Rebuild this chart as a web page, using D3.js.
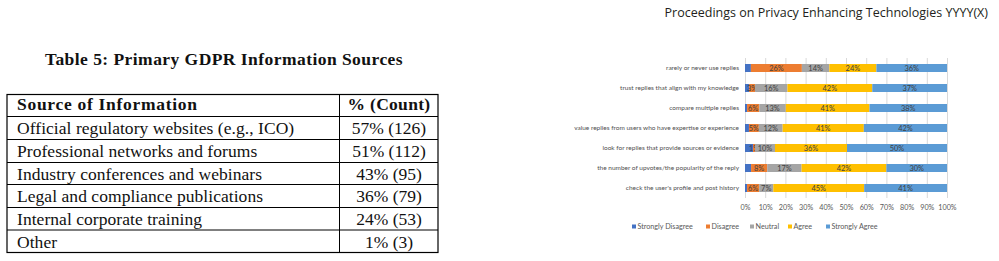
<!DOCTYPE html>
<html><head><meta charset="utf-8">
<script src="https://cdn.jsdelivr.net/npm/d3@7"></script>
<style>body{margin:0;background:#fff}svg{display:block}</style>
</head><body>
<svg id="c" width="999" height="261"></svg>
<script>
// ---- data ----
const header = "Proceedings on Privacy Enhancing Technologies YYYY(X)";
const tableTitle = "Table 5: Primary GDPR Information Sources";
const tableHead = ["Source of Information", "% (Count)"];
const sources = ["Official regulatory websites (e.g., ICO)", "Professional networks and forums",
  "Industry conferences and webinars", "Legal and compliance publications",
  "Internal corporate training", "Other"];
const sourcePct = [57, 51, 43, 36, 24, 1];
const sourceCount = [126, 112, 95, 79, 53, 3];

const categories = ["rarely or never use replies", "trust replies that align with my knowledge",
  "compare multiple replies", "value replies from users who have expertise or experience",
  "look for replies that provide sources or evidence", "the number of upvotes/the popularity of the reply",
  "check the user's profile and post history"];
const seriesNames = ["Strongly Disagree", "Disagree", "Neutral", "Agree", "Strongly Agree"];
const stronglyDisagree = [3, 2, 1, 2, 4, 3, 1];
const disagree = [26, 3, 6, 5, 1, 8, 6];
const neutral = [14, 16, 13, 12, 10, 17, 7];
const agree = [24, 42, 41, 41, 36, 42, 45];
const stronglyAgree = [36, 37, 38, 42, 50, 30, 41];
const ticks = [0, 0.1, 0.2, 0.3, 0.4, 0.5, 0.6, 0.7, 0.8, 0.9, 1];
const colors = ["#4472C4", "#ED7D31", "#A5A5A5", "#FFC000", "#5B9BD5"];

const svg = d3.select("#c");

// ---- header ----
svg.append("text").attr("x", 988).attr("y", 17).attr("text-anchor", "end")
  .attr("font-family", "'Open Sans', sans-serif").attr("font-size", 12.5).attr("fill", "#231f20")
  .text(header);

// ---- table ----
const serif = "'Liberation Serif', serif";
svg.append("text").attr("x", 224).attr("y", 65).attr("text-anchor", "middle")
  .attr("font-family", serif).attr("font-weight", "bold").attr("font-size", 17.5)
  .attr("letter-spacing", 0.45).attr("fill", "#111").text(tableTitle);

const tx0 = 7, tx1 = 438, tdiv = 339.5;
const rowEdges = [94.5, 116.5, 139.5, 162.5, 184.5, 207.5, 230, 252.5];
const tg = svg.append("g");
tg.append("rect").attr("x", tx0).attr("y", rowEdges[0]).attr("width", tx1 - tx0)
  .attr("height", rowEdges[7] - rowEdges[0]).attr("fill", "none").attr("stroke", "#000").attr("stroke-width", 1.2);
rowEdges.slice(1, 7).forEach(y => tg.append("line").attr("x1", tx0).attr("x2", tx1).attr("y1", y).attr("y2", y)
  .attr("stroke", "#000").attr("stroke-width", 1));
tg.append("line").attr("x1", tdiv).attr("x2", tdiv).attr("y1", rowEdges[0]).attr("y2", rowEdges[7])
  .attr("stroke", "#000").attr("stroke-width", 1);
tg.append("text").attr("x", 17).attr("y", 110).attr("font-family", serif).attr("font-weight", "bold")
  .attr("font-size", 17.5).attr("letter-spacing", 0.7).attr("fill", "#111").text(tableHead[0]);
tg.append("text").attr("x", 389).attr("y", 110).attr("text-anchor", "middle").attr("font-family", serif)
  .attr("font-weight", "bold").attr("font-size", 17.5).attr("letter-spacing", 0.3).attr("fill", "#111").text(tableHead[1]);
sources.forEach((s, i) => {
  const yb = rowEdges[i + 1] + 17.8;
  tg.append("text").attr("x", 17).attr("y", yb).attr("font-family", serif).attr("font-size", 17.5)
    .attr("letter-spacing", 0.05).attr("fill", "#111").text(s);
  tg.append("text").attr("x", 389).attr("y", yb).attr("text-anchor", "middle").attr("font-family", serif)
    .attr("font-size", 17.5).attr("fill", "#111").text(sourcePct[i] + "% (" + sourceCount[i] + ")");
});

// ---- stacked bar chart ----
const cx0 = 745, cx1 = 947;
const x = d3.scaleLinear().domain([0, 1]).range([cx0, cx1]);
const y = d3.scaleBand().domain(categories).range([58, 198]).paddingInner(0.6).paddingOuter(0.3);
const rows = categories.map((c, i) => ({
  cat: c, "Strongly Disagree": stronglyDisagree[i], "Disagree": disagree[i], "Neutral": neutral[i],
  "Agree": agree[i], "Strongly Agree": stronglyAgree[i]
}));
const stack = d3.stack().keys(seriesNames).offset(d3.stackOffsetExpand)(rows);
const cg = svg.append("g");
const font = "Lato, 'Open Sans', sans-serif";

cg.selectAll("line.grid").data(ticks).join("line").attr("class", "grid")
  .attr("x1", d => x(d) + 0.5).attr("x2", d => x(d) + 0.5).attr("y1", 58).attr("y2", 198)
  .attr("stroke", "#d9d9d9").attr("stroke-width", 1);

stack.forEach((s, si) => {
  cg.append("g").selectAll("rect").data(s).join("rect")
    .attr("x", d => x(d[0])).attr("width", d => x(d[1]) - x(d[0]))
    .attr("y", d => y(d.data.cat)).attr("height", y.bandwidth()).attr("fill", colors[si]);
  if (si > 0) {
    cg.append("g").selectAll("text").data(s).join("text")
      .attr("x", d => (x(d[0]) + x(d[1])) / 2).attr("y", d => y(d.data.cat) + y.bandwidth() / 2 + 2.6)
      .attr("text-anchor", "middle").attr("font-family", font).attr("font-size", 7.4).attr("fill", "#404040")
      .text(d => d.data[s.key] + "%");
  }
});

cg.selectAll("text.cat").data(categories).join("text").attr("class", "cat")
  .attr("x", 739).attr("y", d => y(d) + y.bandwidth() / 2 + 2.3).attr("text-anchor", "end")
  .attr("font-family", font).attr("font-size", 6.5).attr("fill", "#505050").text(d => d);

const ax = d3.axisBottom(x).tickValues(ticks).tickFormat(d3.format(".0%")).tickSize(0).tickPadding(0);
const axg = cg.append("g").attr("transform", "translate(0,205)").call(ax);
axg.select(".domain").remove();
axg.selectAll("text").attr("font-family", font).attr("font-size", 7.2).attr("fill", "#595959").attr("dy", "0.71em");

const legX = [632, 706, 750, 788, 826];
const lg = cg.append("g");
seriesNames.forEach((n, i) => {
  lg.append("rect").attr("x", legX[i]).attr("y", 224.5).attr("width", 4).attr("height", 4).attr("fill", colors[i]);
  lg.append("text").attr("x", legX[i] + 5.5).attr("y", 229).attr("font-family", font).attr("font-size", 7.2)
    .attr("fill", "#595959").text(n);
});
</script>
</body></html>
